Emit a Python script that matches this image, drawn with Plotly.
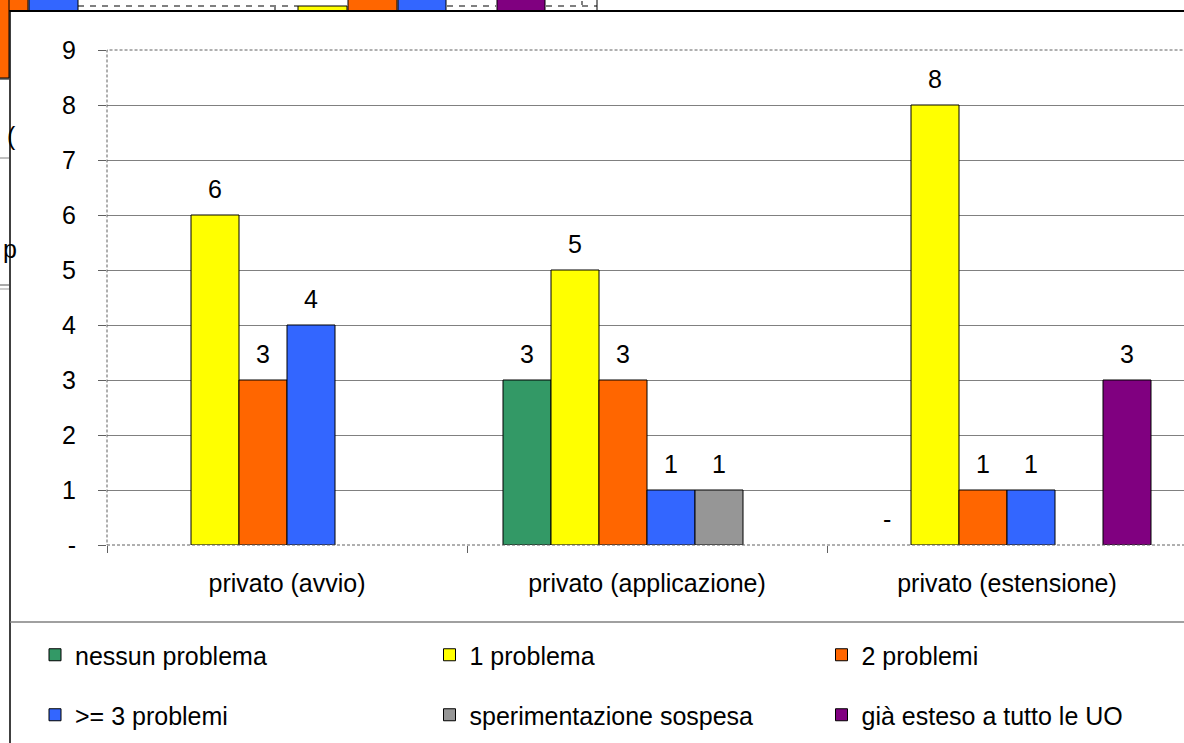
import plotly.graph_objects as go

# ---- data -------------------------------------------------------------
categories = ["privato (avvio)", "privato (applicazione)", "privato (estensione)"]

series_names = [
    "nessun problema",
    "1 problema",
    "2 problemi",
    ">= 3 problemi",
    "sperimentazione sospesa",
    "già esteso a tutto le UO",
]
nessun_problema = [None, 3, 0]
uno_problema = [6, 5, 8]
due_problemi = [3, 3, 1]
tre_piu_problemi = [4, 1, 1]
sperimentazione_sospesa = [None, 1, None]
gia_esteso = [None, None, 3]

series_values = [
    nessun_problema,
    uno_problema,
    due_problemi,
    tre_piu_problemi,
    sperimentazione_sospesa,
    gia_esteso,
]

y_tick_values = [0, 1, 2, 3, 4, 5, 6, 7, 8, 9]
y_tick_labels = ["-", "1", "2", "3", "4", "5", "6", "7", "8", "9"]

# ---- styling ----------------------------------------------------------
colors = ["#339966", "#FFFF00", "#FF6600", "#3366FF", "#969696", "#800080"]
FONT = "Arial, Liberation Sans, sans-serif"
FS = 25

W, H = 1184, 743
ML, MT, MB, MR = 107, 50, 198, 0
PW, PH = W - ML - MR, H - MT - MB
CAT_PX = 360            # pixel width of one category band
BARGAP = 0.2
N = len(series_names)
SLOT_PX = CAT_PX * (1 - BARGAP) / N


def px(x):
    return (x - ML) / PW


def py(y):
    return (H - MB - y) / PH


def fmt(v):
    return "-" if v == 0 else str(v)


fig = go.Figure()
legend_ids = ["legend"] + [f"legend{k}" for k in range(2, N + 1)]
for i, (name, vals) in enumerate(zip(series_names, series_values)):
    fig.add_trace(
        go.Bar(
            x=categories,
            y=vals,
            name=name,
            marker=dict(
                color=colors[i],
                line=dict(color="black",
                          width=[0 if v == 0 else 1 for v in vals]),
            ),
            legend=legend_ids[i],
        )
    )

annotations = []
# value labels above each bar
for i, vals in enumerate(series_values):
    for cat, v in zip(categories, vals):
        if v is None:
            continue
        annotations.append(dict(
            x=cat, y=v, xref="x", yref="y", text=fmt(v), showarrow=False,
            yanchor="bottom", xshift=(i - (N - 1) / 2) * SLOT_PX, yshift=10,
            font=dict(size=FS, family=FONT, color="black"),
        ))

shapes = []

# pieces of the chart lying behind this one
behind_rects = [
    # (x0, y0, x1, y1, fill)
    (-2, -2, 28, 11, "#FF6600"),
    (-2, -2, 9, 78, "#FF6600"),
    (29, -2, 78, 11, "#3366FF"),
    (298, 6, 347, 11, "#FFFF00"),
    (348, -2, 397, 11, "#FF6600"),
    (398, -2, 446, 11, "#3366FF"),
    (497, -2, 545, 11, "#800080"),
]
for x0, y0, x1, y1, c in behind_rects:
    shapes.append(dict(type="rect", xref="paper", yref="paper",
                       x0=px(x0), x1=px(x1), y0=py(y0), y1=py(y1),
                       fillcolor=c, line=dict(color="black", width=1), layer="above"))
for x0, x1 in [(78, 298), (447, 496), (546, 597)]:
    shapes.append(dict(type="line", xref="paper", yref="paper",
                       x0=px(x0), x1=px(x1), y0=py(6), y1=py(6),
                       line=dict(color="black", width=1, dash="6px,6px")))
for x0, y0, y1 in [(275, 7, 11), (582, 1, 5), (597, -2, 11)]:
    shapes.append(dict(type="line", xref="paper", yref="paper",
                       x0=px(x0), x1=px(x0), y0=py(y0), y1=py(y1),
                       line=dict(color="black", width=1)))
for yy, c in [(79, "black"), (158, "#808080"), (285, "#555555"), (289, "#999999")]:
    shapes.append(dict(type="line", xref="paper", yref="paper",
                       x0=px(-2), x1=px(9), y0=py(yy), y1=py(yy),
                       line=dict(color=c, width=1)))
annotations.append(dict(text="(", xref="paper", yref="paper", x=px(5), y=py(120),
                        showarrow=False, font=dict(size=FS, family=FONT, color="black")))
annotations.append(dict(text="p", xref="paper", yref="paper", x=px(1), y=py(249),
                        showarrow=False, font=dict(size=FS, family=FONT, color="black")))

# chart frame (left and top edges)
shapes.append(dict(type="line", xref="paper", yref="paper",
                   x0=px(10), x1=px(10), y0=py(10), y1=py(H + 5),
                   line=dict(color="black", width=1.5)))
shapes.append(dict(type="line", xref="paper", yref="paper",
                   x0=px(10), x1=px(W + 5), y0=py(11), y1=py(11),
                   line=dict(color="black", width=2)))

# dashed plot-area border
shapes.append(dict(type="rect", xref="paper", yref="paper",
                   x0=0, x1=1.01, y0=0, y1=1,
                   line=dict(color="#606060", width=1, dash="3px,2px"), layer="above"))

# separator above the legend
shapes.append(dict(type="line", xref="paper", yref="paper",
                   x0=px(10), x1=px(W + 5), y0=py(622), y1=py(622),
                   line=dict(color="#808080", width=1.5)))

# legend entries: two rows of three
legend_cols = [56, 450.5, 842.5]
legend_rows = [655, 715]
legends = {}
for i, lid in enumerate(legend_ids):
    cx = legend_cols[i % 3]
    cy = legend_rows[i // 3]
    legends[lid] = dict(
        orientation="h",
        xanchor="left",
        yanchor="middle",
        x=px(cx - 21),
        y=py(cy),
        font=dict(size=FS, family=FONT, color="black"),
        bgcolor="rgba(0,0,0,0)",
        itemclick=False,
        itemdoubleclick=False,
    )

fig.update_layout(
    width=W,
    height=H,
    margin=dict(l=ML, r=MR, t=MT, b=MB, autoexpand=False),
    paper_bgcolor="white",
    plot_bgcolor="white",
    barmode="group",
    bargap=BARGAP,
    bargroupgap=0,
    font=dict(family=FONT, size=FS, color="black"),
    showlegend=True,
    shapes=shapes,
    annotations=annotations,
    xaxis=dict(
        type="category",
        range=[-0.5, -0.5 + PW / CAT_PX],
        tickson="boundaries",
        ticks="outside",
        ticklen=7,
        tickcolor="#606060",
        showgrid=False,
        showline=False,
        ticklabelstandoff=21,
        tickfont=dict(size=FS, family=FONT, color="black"),
        automargin=False,
    ),
    yaxis=dict(
        range=[0, 9],
        tickvals=y_tick_values,
        ticktext=y_tick_labels,
        ticks="outside",
        ticklen=8,
        tickcolor="#606060",
        showgrid=True,
        gridcolor="#808080",
        gridwidth=1,
        zeroline=False,
        showline=False,
        ticklabelstandoff=17,
        tickfont=dict(size=FS, family=FONT, color="black"),
        automargin=False,
    ),
    **legends,
)

fig.write_html("out.html")
